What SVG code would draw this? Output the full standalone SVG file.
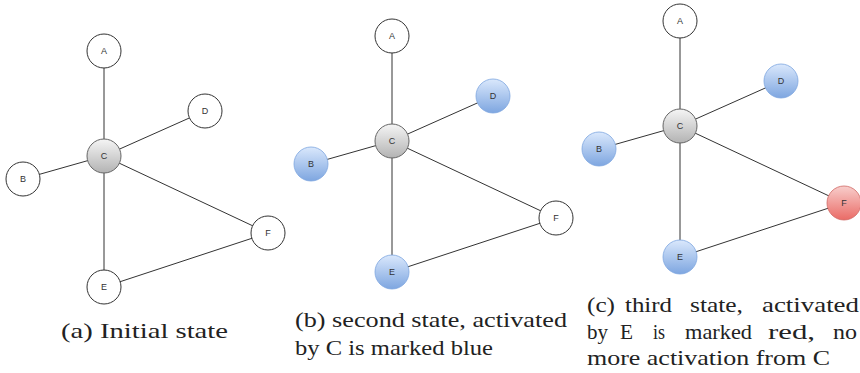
<svg xmlns="http://www.w3.org/2000/svg" width="860" height="373" viewBox="0 0 860 373">
<defs>
<linearGradient id="gGray" x1="0" y1="0" x2="0" y2="1"><stop offset="0" stop-color="#f5f5f5"/><stop offset="1" stop-color="#b3b3b3"/></linearGradient>
<linearGradient id="gBlue" x1="0" y1="0" x2="0" y2="1"><stop offset="0" stop-color="#dae8fc"/><stop offset="1" stop-color="#7ea6e0"/></linearGradient>
<linearGradient id="gRed" x1="0" y1="0" x2="0" y2="1"><stop offset="0" stop-color="#f8cecc"/><stop offset="1" stop-color="#ea6b66"/></linearGradient>
</defs>
<style>
.e{stroke:#333;stroke-width:1;fill:none}
.w{fill:#fff;stroke:#333;stroke-width:1}
.g{fill:url(#gGray);stroke:#666;stroke-width:1}
.b{fill:url(#gBlue);stroke:#7ea6e0;stroke-width:0.8}
.r{fill:url(#gRed);stroke:#d06a66;stroke-width:0.8}
.l{font-family:"Liberation Sans",Arial,sans-serif;font-size:9px;fill:#333;text-anchor:middle}
.cap{font-family:"Liberation Serif","Times New Roman",serif;font-size:22px;fill:#222}
</style>
<rect width="860" height="373" fill="#fff"/>

<g id="panel-a" transform="translate(104,156)">
<g id="edges-a">
<line class="e" x1="0" y1="0" x2="0" y2="-105"/>
<line class="e" x1="0" y1="0" x2="101" y2="-45"/>
<line class="e" x1="0" y1="0" x2="-81" y2="23"/>
<line class="e" x1="0" y1="0" x2="164" y2="77"/>
<line class="e" x1="0" y1="0" x2="0" y2="131"/>
<line class="e" x1="0" y1="131" x2="164" y2="77"/>
</g>
<g id="a-A"><circle class="w" cx="0" cy="-105" r="17"/><text class="l" x="0" y="-102">A</text></g>
<g id="a-D"><circle class="w" cx="101" cy="-45" r="17"/><text class="l" x="101" y="-42">D</text></g>
<g id="a-C"><circle class="g" cx="0" cy="0" r="17"/><text class="l" x="0" y="3">C</text></g>
<g id="a-B"><circle class="w" cx="-81" cy="23" r="17"/><text class="l" x="-81" y="26">B</text></g>
<g id="a-F"><circle class="w" cx="164" cy="77" r="17"/><text class="l" x="164" y="80">F</text></g>
<g id="a-E"><circle class="w" cx="0" cy="131" r="17"/><text class="l" x="0" y="134">E</text></g>
</g>

<g id="panel-b" transform="translate(392,141)">
<g id="edges-b">
<line class="e" x1="0" y1="0" x2="0" y2="-105"/>
<line class="e" x1="0" y1="0" x2="101" y2="-45"/>
<line class="e" x1="0" y1="0" x2="-81" y2="23"/>
<line class="e" x1="0" y1="0" x2="164" y2="77"/>
<line class="e" x1="0" y1="0" x2="0" y2="131"/>
<line class="e" x1="0" y1="131" x2="164" y2="77"/>
</g>
<g id="b-A"><circle class="w" cx="0" cy="-105" r="17"/><text class="l" x="0" y="-102">A</text></g>
<g id="b-D"><circle class="b" cx="101" cy="-45" r="17"/><text class="l" x="101" y="-42">D</text></g>
<g id="b-C"><circle class="g" cx="0" cy="0" r="17"/><text class="l" x="0" y="3">C</text></g>
<g id="b-B"><circle class="b" cx="-81" cy="23" r="17"/><text class="l" x="-81" y="26">B</text></g>
<g id="b-F"><circle class="w" cx="164" cy="77" r="17"/><text class="l" x="164" y="80">F</text></g>
<g id="b-E"><circle class="b" cx="0" cy="131" r="17"/><text class="l" x="0" y="134">E</text></g>
</g>

<g id="panel-c" transform="translate(680,126)">
<g id="edges-c">
<line class="e" x1="0" y1="0" x2="0" y2="-105"/>
<line class="e" x1="0" y1="0" x2="101" y2="-45"/>
<line class="e" x1="0" y1="0" x2="-81" y2="23"/>
<line class="e" x1="0" y1="0" x2="164" y2="77"/>
<line class="e" x1="0" y1="0" x2="0" y2="131"/>
<line class="e" x1="0" y1="131" x2="164" y2="77"/>
</g>
<g id="c-A"><circle class="w" cx="0" cy="-105" r="17"/><text class="l" x="0" y="-102">A</text></g>
<g id="c-D"><circle class="b" cx="101" cy="-45" r="17"/><text class="l" x="101" y="-42">D</text></g>
<g id="c-C"><circle class="g" cx="0" cy="0" r="17"/><text class="l" x="0" y="3">C</text></g>
<g id="c-B"><circle class="b" cx="-81" cy="23" r="17"/><text class="l" x="-81" y="26">B</text></g>
<g id="c-F"><circle class="r" cx="164" cy="77" r="17"/><text class="l" x="164" y="80">F</text></g>
<g id="c-E"><circle class="b" cx="0" cy="131" r="17"/><text class="l" x="0" y="134">E</text></g>
</g>

<g id="captions">
<text class="cap" x="61" y="338" textLength="167" lengthAdjust="spacingAndGlyphs">(a) Initial state</text>
<text class="cap" x="295" y="327" textLength="272" lengthAdjust="spacingAndGlyphs">(b) second state, activated</text>
<text class="cap" x="295" y="355" textLength="198" lengthAdjust="spacingAndGlyphs">by C is marked blue</text>
<text class="cap" x="587" y="312" textLength="28" lengthAdjust="spacingAndGlyphs">(c)</text>
<text class="cap" x="625" y="312" textLength="47" lengthAdjust="spacingAndGlyphs">third</text>
<text class="cap" x="690" y="312" textLength="53" lengthAdjust="spacingAndGlyphs">state,</text>
<text class="cap" x="762" y="312" textLength="97" lengthAdjust="spacingAndGlyphs">activated</text>
<text class="cap" x="587" y="339" textLength="21" lengthAdjust="spacingAndGlyphs">by</text>
<text class="cap" x="620" y="339" textLength="13" lengthAdjust="spacingAndGlyphs">E</text>
<text class="cap" x="653" y="339" textLength="12" lengthAdjust="spacingAndGlyphs">is</text>
<text class="cap" x="685" y="339" textLength="67" lengthAdjust="spacingAndGlyphs">marked</text>
<text class="cap" x="768" y="339" textLength="47" lengthAdjust="spacingAndGlyphs">red,</text>
<text class="cap" x="833" y="339" textLength="24" lengthAdjust="spacingAndGlyphs">no</text>
<text class="cap" x="587" y="365" textLength="243" lengthAdjust="spacingAndGlyphs">more activation from C</text>
</g>
</svg>
